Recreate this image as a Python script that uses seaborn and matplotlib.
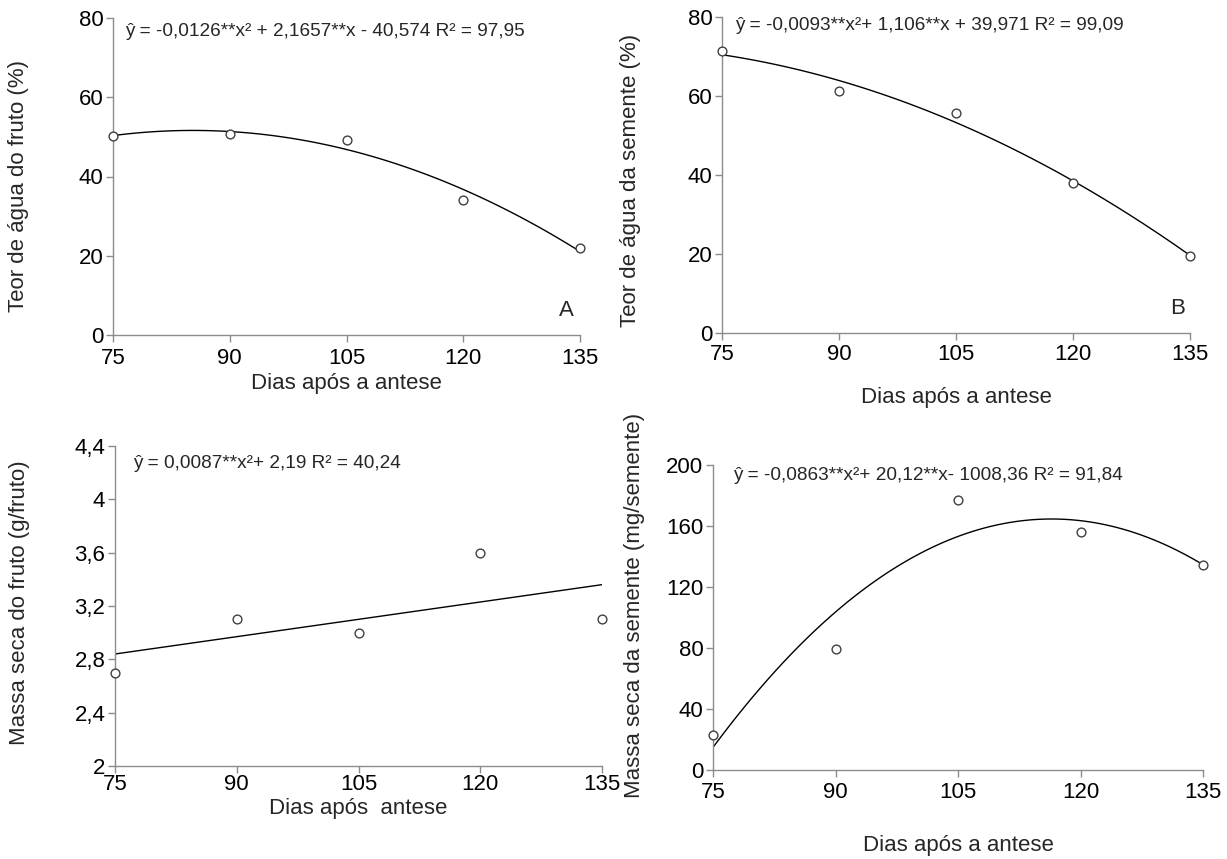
import matplotlib
matplotlib.use("Agg")
import matplotlib.pyplot as plt
import seaborn as sns
import pandas as pd

days = [75, 90, 105, 120, 135]
agua_fruto = [50.2, 50.8, 49.2, 34.1, 22.0]
agua_semente = [71.4, 61.2, 55.7, 38.0, 19.5]
massa_fruto = [2.7, 3.1, 3.0, 3.6, 3.1]
massa_semente = [23.0, 79.3, 177.0, 156.0, 134.4]

x_ticks = [75, 90, 105, 120, 135]
y_ticks_a = [0, 20, 40, 60, 80]
y_ticks_b = [0, 20, 40, 60, 80]
y_ticks_c = [2.0, 2.4, 2.8, 3.2, 3.6, 4.0, 4.4]
y_ticklabels_c = ["2", "2,4", "2,8", "3,2", "3,6", "4", "4,4"]
y_ticks_d = [0, 40, 80, 120, 160, 200]

eq_a = "ŷ = -0,0126**x² + 2,1657**x - 40,574 R² = 97,95"
eq_b = "ŷ = -0,0093**x²+ 1,106**x + 39,971 R² = 99,09"
eq_c = "ŷ = 0,0087**x²+ 2,19 R² = 40,24"
eq_d = "ŷ = -0,0863**x²+ 20,12**x- 1008,36 R² = 91,84"

sns.set_style("ticks")
plt.rcParams["font.family"] = ["Liberation Sans", "DejaVu Sans"]

W, H = 1227, 859
fig = plt.figure(figsize=(W / 100, H / 100), dpi=100)

def px_axes(left, right, top, bottom):
    return fig.add_axes([left / W, 1 - bottom / H, (right - left) / W, (bottom - top) / H])

spine_col = "#8c8c8c"
TICK_FS = 16
LAB_FS = 16
EQ_FS = 13.7

panels = [
    dict(box=(113, 580, 18, 335), y=agua_fruto, order=2, yt=y_ticks_a, ytl=[str(v) for v in y_ticks_a],
         ylim=(0, 80), ylabel="Teor de água do fruto (%)", ylab_pos=(-0.18, 0.47), xpad=4,
         xlabel="Dias após a antese", xlab_y=-0.12, eq=eq_a, eq_pos=(125, 32), tag="A", tag_pos=(566, 310)),
    dict(box=(722, 1190, 17, 333), y=agua_semente, order=2, yt=y_ticks_b, ytl=[str(v) for v in y_ticks_b],
         ylim=(0, 80), ylabel="Teor de água da semente (%)", ylab_pos=(-0.173, 0.484), xpad=3,
         xlabel="Dias após a antese", xlab_y=-0.171, eq=eq_b, eq_pos=(735, 25), tag="B", tag_pos=(1178, 308)),
    dict(box=(115, 602, 446, 766), y=massa_fruto, order=1, yt=y_ticks_c, ytl=y_ticklabels_c,
         ylim=(2.0, 4.4), ylabel="Massa seca do fruto (g/fruto)", ylab_pos=(-0.174, 0.51), xpad=0.5,
         xlabel="Dias após  antese", xlab_y=-0.1, eq=eq_c, eq_pos=(133, 463), tag=None, tag_pos=None),
    dict(box=(713, 1203, 465, 770), y=massa_semente, order=2, yt=y_ticks_d, ytl=[str(v) for v in y_ticks_d],
         ylim=(0, 200), ylabel="Massa seca da semente (mg/semente)", ylab_pos=(-0.139, 0.54), xpad=4,
         xlabel="Dias após a antese", xlab_y=-0.213, eq=eq_d, eq_pos=(733, 476), tag=None, tag_pos=None),
]

for p in panels:
    ax = px_axes(*p["box"])
    df = pd.DataFrame({"x": days, "y": p["y"]})
    sns.regplot(data=df, x="x", y="y", order=p["order"], ci=None, truncate=True, ax=ax,
                scatter_kws=dict(s=40, facecolor="white", edgecolor="#404040", linewidths=1.0,
                                 clip_on=False, zorder=3, alpha=1),
                line_kws=dict(color="black", lw=1.0, zorder=2))
    ax.set_xlim(75, 135)
    ax.set_ylim(*p["ylim"])
    ax.set_xticks(x_ticks)
    ax.set_xticklabels([str(v) for v in x_ticks], fontsize=TICK_FS)
    ax.set_yticks(p["yt"])
    ax.set_yticklabels(p["ytl"], fontsize=TICK_FS)
    for s in ["top", "right"]:
        ax.spines[s].set_visible(False)
    for s in ["left", "bottom"]:
        ax.spines[s].set_color(spine_col)
        ax.spines[s].set_linewidth(1.0)
    ax.tick_params(axis="both", colors=spine_col, labelcolor="black", length=5, width=1.0, direction="out")
    ax.tick_params(axis="y", pad=2)
    ax.tick_params(axis="x", pad=p["xpad"])
    ax.set_ylabel(p["ylabel"], fontsize=LAB_FS)
    ax.yaxis.set_label_coords(*p["ylab_pos"])
    ax.set_xlabel(p["xlabel"], fontsize=LAB_FS)
    ax.xaxis.set_label_coords(0.5, p["xlab_y"])
    fig.text(p["eq_pos"][0] / W, 1 - p["eq_pos"][1] / H, p["eq"], fontsize=EQ_FS, va="center", ha="left")
    if p["tag"]:
        fig.text(p["tag_pos"][0] / W, 1 - p["tag_pos"][1] / H, p["tag"], fontsize=16, va="center", ha="center")

fig.savefig("out.png", dpi=100)
